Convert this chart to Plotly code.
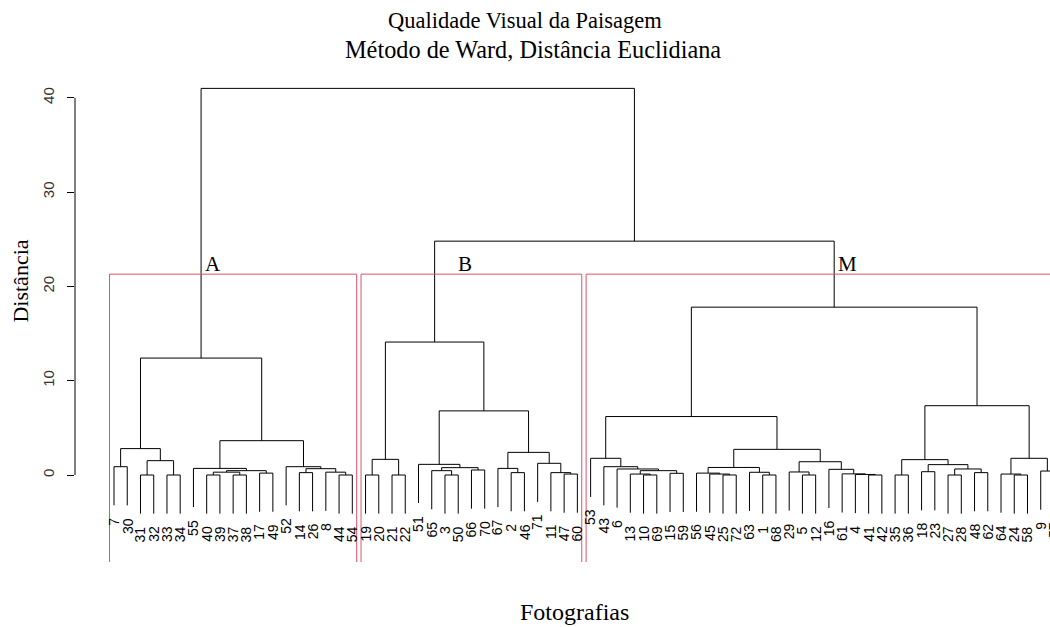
import plotly.graph_objects as go

# ---------------- data ----------------
leaf_order = [7, 30, 31, 32, 33, 34, 55, 40, 39, 37, 38, 17, 49, 52, 14, 26, 8, 44, 54,
              19, 20, 21, 22, 51, 65, 3, 50, 66, 70, 67, 2, 46, 71, 11, 47, 60,
              53, 43, 6, 13, 10, 69, 15, 59, 56, 45, 25, 72, 63, 1, 68, 29, 5, 12, 16,
              61, 4, 41, 42, 35, 36, 18, 23, 27, 28, 48, 62, 64, 24, 58, 9, 57]

# merges (R hclust convention): negative = photo number, positive = earlier merge (1-based)
merge_left = [-31, -33, 1, -7, 4, -40, -37, 6, -17, 8, -55, -14, -44, -8, 12, -52, 11, 5,
              -19, -21, 19, -3, -65, -66, 23, -51, -2, -67, -47, -11, -71, 28, 26, 21,
              -10, -13, -15, 36, -6, -43, -53, -25, -45, -56, -1, -63, 44, -5, -29, -41, -4,
              -61, -16, 49, 47, 41, -35, -18, -27, -48, 59, 58, 57, -24, -64, -9, 65, 63,
              56, 34, 18]
merge_right = [-32, -34, 2, -30, 3, -39, -38, 7, -49, 9, 10, -26, -54, 13, 14, 15, 16, 17,
               -20, -22, 20, -50, 22, -70, 24, 25, -46, 27, -60, 29, 30, 31, 32, 33,
               -69, 35, -59, 37, 38, 39, 40, -72, 42, 43, -68, 45, 46, -12, 48, -42, 50,
               51, 52, 53, 54, 55, -36, -23, -28, -62, 60, 61, 62, -58, 64, -57, 66, 67,
               68, 69, 70]
merge_height = [0.0, 0.0, 1.52, 0.88, 2.8, 0.0, 0.0, 0.3, 0.2, 0.46, 0.7, 0.25, 0.0, 0.3,
                0.67, 0.88, 3.64, 12.4,
                0.0, 0.0, 1.66, 0.0, 0.46, 0.53, 0.78, 1.13, 0.25, 0.7, 0.1, 0.25, 1.24,
                2.4, 6.8, 14.1,
                0.0, 0.1, 0.18, 0.46, 0.64, 0.88, 1.77, 0.0, 0.1, 0.2, 0.0, 0.29, 0.8,
                0.0, 0.32, 0.0, 0.06, 0.12, 0.6, 1.41, 2.72, 6.2, 0.0, 0.35, 0.0, 0.25,
                0.64, 1.1, 1.63, 0.0, 0.1, 0.42, 1.77, 7.35, 17.8, 24.8, 41.0]

n_clusters = 3
cluster_names = ["A", "B", "M"]
cluster_label_x = [8.48, 27.5, 56.4]
cluster_label_y = 22.4

y_ticks = [0, 10, 20, 30, 40]

title_1 = "Qualidade Visual da Paisagem"
title_2 = "Método de Ward, Distância Euclidiana"
x_title = "Fotografias"
y_title = "Distância"

# ---------------- geometry via dendrogram layout ----------------
hang = 0.1 * max(merge_height)
pos = {lab: i + 1 for i, lab in enumerate(leaf_order)}
center = {}
xs, ys = [], []
leaf_tip = {}
for k, (a, b, h) in enumerate(zip(merge_left, merge_right, merge_height), start=1):
    cx = []
    for c in (a, b):
        if c < 0:
            x = pos[-c]
            y0 = h - hang
            leaf_tip[-c] = (x, y0)
        else:
            x = center[c]
            y0 = merge_height[c - 1]
        xs += [x, x, None]
        ys += [y0, h, None]
        cx.append(x)
    xs += [cx[0], cx[1], None]
    ys += [h, h, None]
    center[k] = (cx[0] + cx[1]) / 2

# clusters for rect.hclust (k = 3)
def leaves_of(node):
    if node < 0:
        return [-node]
    return leaves_of(merge_left[node - 1]) + leaves_of(merge_right[node - 1])

n = len(merge_height)
roots = [n]
while len(roots) < n_clusters:
    top = max(roots)
    roots.remove(top)
    roots += [merge_left[top - 1], merge_right[top - 1]]
groups = sorted([sorted(pos[l] for l in leaves_of(r)) for r in roots], key=lambda g: g[0])
hs = sorted(merge_height)
cut = (hs[-n_clusters] + hs[-n_clusters + 1]) / 2

Y_MIN, Y_MAX = -9.226, 42.95
X_MIN, X_MAX = -1.946, 71.70

fig = go.Figure()
fig.add_trace(go.Scatter(x=xs, y=ys, mode="lines",
                         line=dict(color="black", width=1), hoverinfo="skip"))

rx, ry = [], []
for g in groups:
    left, right = g[0] - 0.34, g[-1] + 0.33
    rx += [left, left, right, right, None]
    ry += [Y_MIN, cut, cut, Y_MIN, None]
fig.add_trace(go.Scatter(x=rx, y=ry, mode="lines",
                         line=dict(color="#DF536B", width=1), hoverinfo="skip"))

sans = "Liberation Sans, Arial, sans-serif"
serif = "Liberation Serif, Times New Roman, serif"

annotations = []
label_gap = 1.1
for lab, (x, y) in leaf_tip.items():
    # paper x so that a label partly past the right edge is still drawn (clipped)
    xp = (x - X_MIN) / (X_MAX - X_MIN)
    annotations.append(dict(x=xp, y=y - label_gap, xref="paper", yref="y", text=str(lab),
                            showarrow=False, textangle=-90, xanchor="center", yanchor="top",
                            font=dict(family=sans, size=14, color="black")))
for name, lx in zip(cluster_names, cluster_label_x):
    annotations.append(dict(x=lx, y=cluster_label_y, xref="x", yref="y", text=name,
                            showarrow=False, xanchor="center", yanchor="middle",
                            font=dict(family=serif, size=21, color="black")))
annotations += [
    dict(x=0.4615, y=1.1016, xref="paper", yref="paper", text=title_1, showarrow=False,
         xanchor="center", yanchor="middle", font=dict(family=serif, size=22.5, color="black")),
    dict(x=0.4697, y=1.0407, xref="paper", yref="paper", text=title_2, showarrow=False,
         xanchor="center", yanchor="middle", font=dict(family=serif, size=24.3, color="black")),
    dict(x=0.5128, y=-0.1016, xref="paper", yref="paper", text=x_title, showarrow=False,
         xanchor="center", yanchor="middle", font=dict(family=serif, size=24, color="black")),
    dict(x=-0.0554, y=0.572, xref="paper", yref="paper", text=y_title, showarrow=False,
         textangle=-90, xanchor="center", yanchor="middle",
         font=dict(family=serif, size=22, color="black")),
]

fig.update_layout(
    width=1050, height=627,
    margin=dict(l=75, r=0, t=70, b=65),
    plot_bgcolor="white", paper_bgcolor="white",
    showlegend=False,
    annotations=annotations,
    shapes=[dict(type="line", xref="paper", yref="y", x0=0, x1=0, y0=min(y_ticks), y1=max(y_ticks),
                 line=dict(color="black", width=1))],
    xaxis=dict(range=[X_MIN, X_MAX], visible=False, showgrid=False, zeroline=False),
    yaxis=dict(range=[Y_MIN, Y_MAX], tickvals=y_ticks, ticks="outside", ticklen=7,
               tickcolor="black", tickangle=-90, showgrid=False, zeroline=False,
               showline=False, ticklabelstandoff=7,
               tickfont=dict(family=sans, size=15, color="#333333")),
)

fig.write_html("out.html")
